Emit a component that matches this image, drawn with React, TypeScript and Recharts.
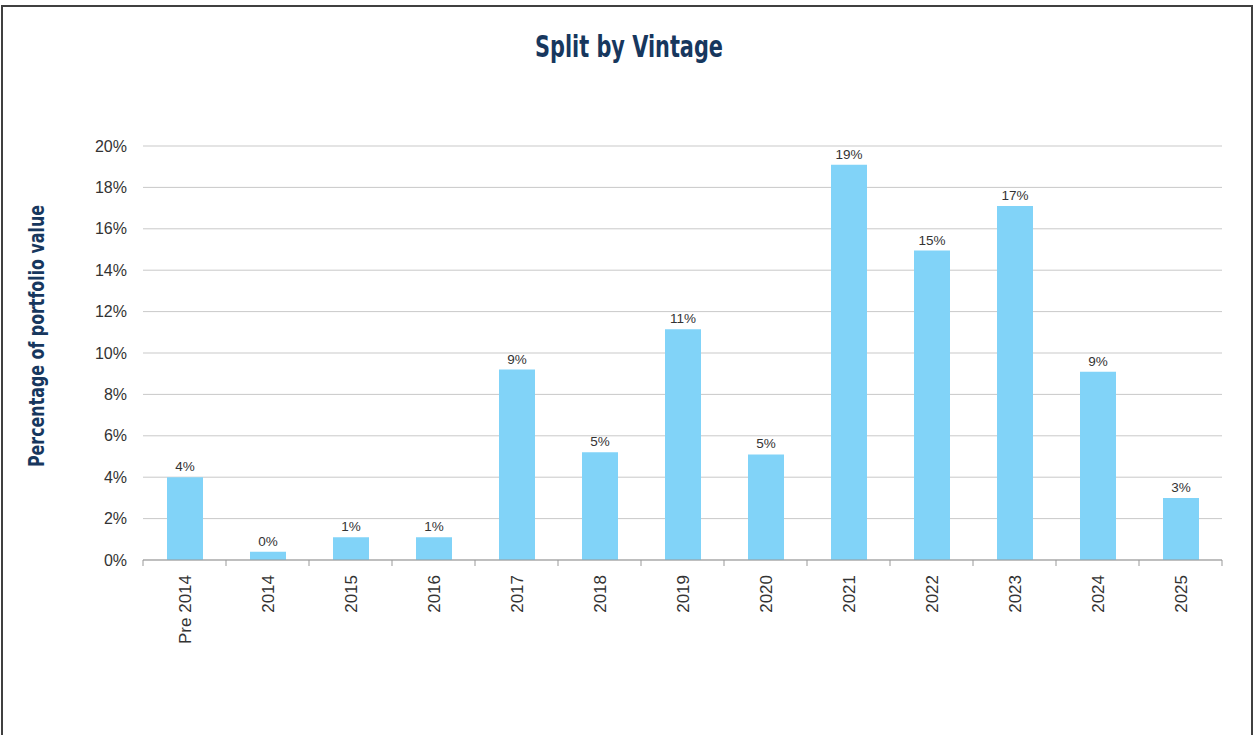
import { Bar, BarChart, CartesianGrid, LabelList, XAxis, YAxis } from "recharts";

const vintages = ["Pre 2014", "2014", "2015", "2016", "2017", "2018", "2019", "2020", "2021", "2022", "2023", "2024", "2025"];
const shares = [4.0, 0.4, 1.1, 1.1, 9.2, 5.2, 11.15, 5.1, 19.1, 14.95, 17.1, 9.1, 3.0];
const yTicks = [0, 2, 4, 6, 8, 10, 12, 14, 16, 18, 20];

const data = vintages.map((name, i) => ({ name, share: shares[i] }));

const W = 1256;
const H = 735;
const LEFT = 143;
const RIGHT = 34;
const TOP = 146;
const X_AXIS_H = 175;
const BAND = (W - LEFT - RIGHT) / vintages.length;

const NAVY = "#17375e";
const TEXT = "#333333";
const FONT = '"Liberation Sans", Arial, sans-serif';
const NARROW = '"Liberation Sans Narrow", "DejaVu Sans Condensed", "Liberation Sans", sans-serif';

const XTick = (props: any) => {
  const { x, y, payload } = props;
  const left = x - BAND / 2;
  const isLast = payload.index === vintages.length - 1;
  return (
    <g>
      <line x1={left} y1={y - 8} x2={left} y2={y - 2} stroke="#999" />
      {isLast && <line x1={x + BAND / 2} y1={y - 8} x2={x + BAND / 2} y2={y - 2} stroke="#999" />}
      <text
        x={x + 6}
        y={y + 7}
        transform={`rotate(-90, ${x + 6}, ${y + 7})`}
        textAnchor="end"
        fontSize={17}
        fill={TEXT}
        fontFamily={FONT}
      >
        {payload.value}
      </text>
    </g>
  );
};

const App = () => {
  return (
    <div style={{ position: "relative", width: W, height: H, overflow: "hidden", background: "#fff" }}>
      <style>{"body{margin:0}"}</style>
      <div
        style={{
          position: "absolute",
          left: 1,
          top: 5,
          width: W - 4,
          height: 900,
          border: "2px solid #404040",
          boxSizing: "border-box",
        }}
      />
      <div style={{ position: "absolute", left: 0, top: 0 }}>
        <BarChart
          width={W}
          height={H}
          data={data}
          margin={{ top: TOP, right: RIGHT, bottom: 0, left: 0 }}
        >
          <CartesianGrid vertical={false} stroke="#c9c9c9" />
          <XAxis
            dataKey="name"
            height={X_AXIS_H}
            interval={0}
            tickLine={false}
            axisLine={{ stroke: "#999" }}
            tick={<XTick />}
          />
          <YAxis
            width={LEFT}
            domain={[0, 20]}
            ticks={yTicks}
            axisLine={false}
            tickLine={false}
            tickSize={8}
            tickMargin={8}
            tickFormatter={(v) => `${v}%`}
            tick={{ fontSize: 16, fill: TEXT, fontFamily: FONT }}
          />
          <Bar dataKey="share" fill="#81d3f8" barSize={36} isAnimationActive={false}>
            <LabelList
              dataKey="share"
              position="top"
              offset={6}
              formatter={(v: any) => `${Math.round(v)}%`}
              style={{ fontSize: 13.5, fill: TEXT, fontFamily: FONT }}
            />
          </Bar>
        </BarChart>
      </div>
      <svg width={W} height={H} style={{ position: "absolute", left: 0, top: 0, pointerEvents: "none" }}>
        <text
          x={629}
          y={57}
          textAnchor="middle"
          fontSize={30}
          fontWeight="bold"
          fill={NAVY}
          fontFamily={NARROW}
          textLength={188}
          lengthAdjust="spacingAndGlyphs"
        >
          Split by Vintage
        </text>
        <text
          x={44}
          y={336}
          transform="rotate(-90, 44, 336)"
          textAnchor="middle"
          fontSize={21}
          fontWeight="bold"
          fill={NAVY}
          fontFamily={NARROW}
          textLength={262}
          lengthAdjust="spacingAndGlyphs"
        >
          Percentage of portfolio value
        </text>
      </svg>
    </div>
  );
};

export default App;
